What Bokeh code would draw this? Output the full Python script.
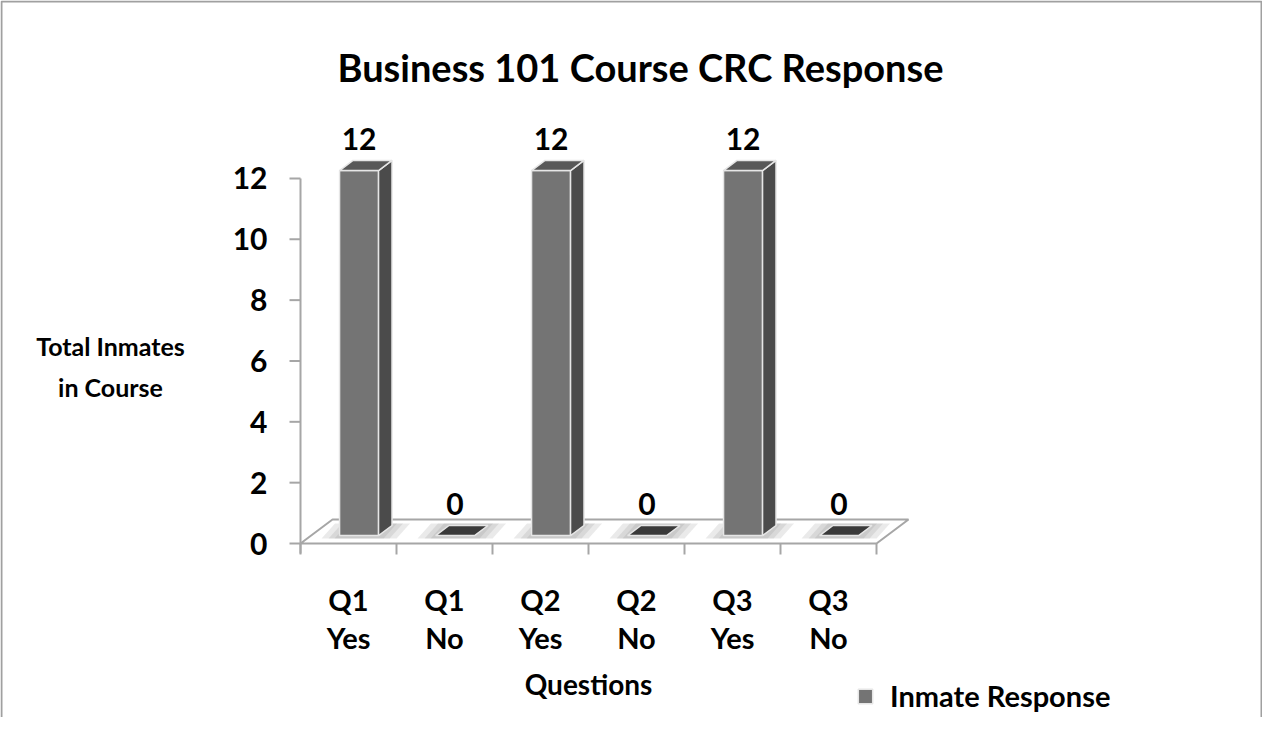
from bokeh.plotting import figure
from bokeh.models import Range1d, Legend, LegendItem
from bokeh.core.properties import value
from bokeh.embed import file_html
from bokeh.resources import INLINE

# ---------------- data ----------------
categories = ["Q1 Yes", "Q1 No", "Q2 Yes", "Q2 No", "Q3 Yes", "Q3 No"]
responses = [12, 0, 12, 0, 12, 0]
y_ticks = [0, 2, 4, 6, 8, 10, 12]
title_text = "Business 101 Course CRC Response"
y_title_lines = ["Total Inmates", "in Course"]
x_title = "Questions"
series_name = "Inmate Response"

# ---------------- geometry / style ----------------
W, H = 1262, 717
AX_X = 300        # x of the value axis (category 0 edge)
CAT_PX = 96       # px per category
ZERO_Y = 543      # y of value 0
UNIT_PX = 30.42   # px per value unit
FONT = value("Lato")

def dx(px):
    return (px - AX_X) / CAT_PX

def dy(py):
    return (ZERO_Y - py) / UNIT_PX

def sx(px):
    return px / CAT_PX

def sy(px):
    return px / UNIT_PX

FLOOR_DX, FLOOR_DY = sx(32), sy(24)
F0, F1 = 0.33, 0.75
HALF_W = sx(19.5)
AXIS_COL = "#a6a6a6"
FRONT_COL = "#747474"
SIDE_COL = "#4b4b4b"
TOP_COL = "#585858"
ZERO_COL = "#3a3a3a"
EDGE_COL = "#e6e6e6"

p = figure(width=W, height=H,
           x_range=Range1d(dx(0), dx(W)),
           y_range=Range1d(dy(H), dy(0)),
           output_backend="svg", toolbar_location=None, min_border=0,
           x_axis_type=None, y_axis_type=None)
p.grid.visible = False
p.outline_line_color = None
p.background_fill_color = "white"
p.border_fill_color = "white"

n = len(categories)

# chart border (left, top, right)
p.line([dx(1), dx(1), dx(W - 1), dx(W - 1)], [dy(H), dy(1), dy(1), dy(H)],
       line_color="#a0a0a0", line_width=2)

# floor
p.patch([0, n, n + FLOOR_DX, FLOOR_DX], [0, 0, FLOOR_DY, FLOOR_DY],
        fill_color="white", line_color=AXIS_COL, line_width=2)

# value axis
p.segment(x0=[0], y0=[dy(553)], x1=[0], y1=[max(y_ticks)], line_color=AXIS_COL, line_width=2)
p.segment(x0=[dx(289)] * len(y_ticks), y0=y_ticks, x1=[0] * len(y_ticks), y1=y_ticks,
          line_color=AXIS_COL, line_width=2)
p.text(x=[dx(267)] * len(y_ticks), y=y_ticks, text=[str(t) for t in y_ticks],
       text_font=FONT, text_font_style="bold", text_font_size="30px",
       text_align="right", text_baseline="middle", text_color="black")

# category axis
p.segment(x0=list(range(n + 1)), y0=[0] * (n + 1), x1=list(range(n + 1)), y1=[dy(554)] * (n + 1),
          line_color=AXIS_COL, line_width=2)
centers = [i + 0.5 for i in range(n)]
line1 = [c.split(" ")[0] for c in categories]
line2 = [c.split(" ")[1] for c in categories]
p.text(x=centers, y=[dy(599)] * n, text=line1, text_font=FONT, text_font_style="bold",
       text_font_size="29px", text_align="center", text_baseline="middle", text_color="black")
p.text(x=centers, y=[dy(637)] * n, text=line2, text_font=FONT, text_font_style="bold",
       text_font_size="29px", text_align="center", text_baseline="middle", text_color="black")

# bars
bd_x, bd_y = (F1 - F0) * FLOOR_DX, (F1 - F0) * FLOOR_DY
base = F0 * FLOOR_DY
fl, fr, ft = [], [], []
side_xs, side_ys, top_xs, top_ys = [], [], [], []
zero_xs, zero_ys = [], []
sh_layers = [[], [], []]
for i, v in enumerate(responses):
    cx = i + 0.5 + F0 * FLOOR_DX
    l, r = cx - HALF_W, cx + HALF_W
    t = base + v
    # soft shadows on the floor
    for k, m in enumerate([sx(18), sx(11), sx(5)]):
        sh_layers[k].append(([l - m, r + m, r + bd_x + m, l + bd_x - m],
                             [base - sy(3), base - sy(3), base + bd_y + sy(2), base + bd_y + sy(2)]))
    if v > 0:
        fl.append(l); fr.append(r); ft.append(t)
        side_xs.append([r, r, r + bd_x, r + bd_x])
        side_ys.append([base, t, t + bd_y, base + bd_y])
        top_xs.append([l, r, r + bd_x, l + bd_x])
        top_ys.append([t, t, t + bd_y, t + bd_y])
    else:
        zero_xs.append([l, r, r + bd_x, l + bd_x])
        zero_ys.append([t, t, t + bd_y, t + bd_y])

for layer in sh_layers:
    p.patches([s[0] for s in layer], [s[1] for s in layer], fill_color="#7a7a7a",
              fill_alpha=0.16, line_color=None)

front = p.quad(left=fl, right=fr, bottom=[base] * len(fl), top=ft,
               fill_color=FRONT_COL, line_color=EDGE_COL, line_width=1.5)
p.patches(side_xs, side_ys, fill_color=SIDE_COL, line_color=EDGE_COL, line_width=1.5)
p.patches(top_xs, top_ys, fill_color=TOP_COL, line_color=EDGE_COL, line_width=1.5)
p.patches(zero_xs, zero_ys, fill_color=ZERO_COL, line_color=EDGE_COL, line_width=1.5)

# data labels
lab_x = [i + 0.5 + F0 * FLOOR_DX for i in range(n)]
lab_y = [base + v + sy(32) for v in responses]
p.text(x=lab_x, y=lab_y, text=[str(v) for v in responses], text_font=FONT,
       text_font_style="bold", text_font_size="30px", text_align="center",
       text_baseline="middle", text_color="black")

# titles
p.text(x=[dx(640)], y=[dy(66)], text=[title_text], text_font=FONT, text_font_style="bold",
       text_font_size="38px", text_align="center", text_baseline="middle", text_color="black")
p.text(x=[n / 2], y=[dy(683)], text=[x_title], text_font=FONT, text_font_style="bold",
       text_font_size="28px", text_align="center", text_baseline="middle", text_color="black")
p.text(x=[dx(110)] * 2, y=[dy(345), dy(386)], text=y_title_lines, text_font=FONT,
       text_font_style="bold", text_font_size="25px", text_align="center",
       text_baseline="middle", text_color="black")

# legend
legend = Legend(items=[LegendItem(label=series_name, renderers=[front])],
                location=(856, 4), orientation="vertical",
                glyph_width=18, glyph_height=18, label_standoff=16,
                padding=0, margin=0, spacing=0,
                border_line_color=None, background_fill_alpha=0,
                label_text_font="Lato", label_text_font_style="bold",
                label_text_font_size="29px", label_text_color="black")
p.add_layout(legend)

open("out.html", "w").write(file_html(p, INLINE))
